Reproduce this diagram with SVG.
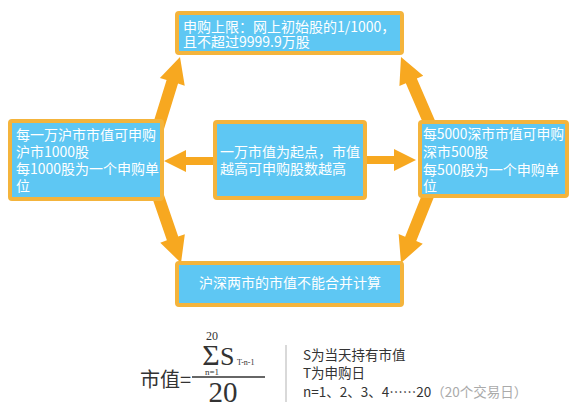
<svg xmlns="http://www.w3.org/2000/svg" width="586" height="410" viewBox="0 0 586 410">
<style>
.box{fill:#5EC7F3;stroke:#F4B43C;stroke-width:4}
.t{fill:#ffffff;font-family:"Noto Sans CJK SC","Noto Sans",sans-serif;font-size:14px}
.arr{fill:#F7A820}
.f{fill:#333333;font-family:"Liberation Serif","Noto Sans CJK SC",serif}
.c{fill:#333333;font-family:"Noto Sans CJK SC","Liberation Serif",sans-serif}
</style>
<rect width="586" height="410" fill="#ffffff"/>
<g id="connectors">
<path class="arr" transform="translate(180,57) rotate(-72.8)" d="M0,0 L-26,-13 L-26,-6 L-76,-6 L-76,6 L-26,6 L-26,13 Z"/>
<path class="arr" transform="translate(401,57) rotate(-113.4)" d="M0,0 L-26,-13 L-26,-6 L-75,-6 L-75,6 L-26,6 L-26,13 Z"/>
<path class="arr" transform="translate(181,263) rotate(71.05)" d="M0,0 L-26,-13 L-26,-6 L-73,-6 L-73,6 L-26,6 L-26,13 Z"/>
<path class="arr" transform="translate(401,263) rotate(111.9)" d="M0,0 L-26,-13 L-26,-6 L-74,-6 L-74,6 L-26,6 L-26,13 Z"/>
<path class="arr" transform="translate(164,161) rotate(180)" d="M0,0 L-22,-11 L-22,-4 L-53,-4 L-53,4 L-22,4 L-22,11 Z"/>
<path class="arr" transform="translate(416,160)" d="M0,0 L-22,-11 L-22,-4 L-53,-4 L-53,4 L-22,4 L-22,11 Z"/>
</g>
<g id="top">
<rect class="box" x="177" y="13" width="225" height="40" rx="2"/>
<text class="t" x="183" y="32" font-size="13">申购上限：网上初始股的1/1000，</text>
<text class="t" x="183" y="47" font-size="13">且不超过9999.9万股</text>
</g>
<g id="left">
<rect class="box" x="10" y="121" width="152" height="78" rx="2"/>
<text class="t" x="16" y="140">每一万沪市市值可申购</text>
<text class="t" x="16" y="157">沪市1000股</text>
<text class="t" x="16" y="174">每1000股为一个申购单</text>
<text class="t" x="16" y="191">位</text>
</g>
<g id="center">
<rect class="box" x="215" y="122" width="150" height="76" rx="2"/>
<text class="t" x="220" y="157">一万市值为起点，市值</text>
<text class="t" x="220" y="174">越高可申购股数越高</text>
</g>
<g id="right">
<rect class="box" x="420" y="122" width="147" height="74" rx="2"/>
<text class="t" x="423" y="139" textLength="141" lengthAdjust="spacingAndGlyphs">每5000深市市值可申购</text>
<text class="t" x="423" y="157" font-size="13">深市500股</text>
<text class="t" x="423" y="175" textLength="136" lengthAdjust="spacingAndGlyphs">每500股为一个申购单</text>
<text class="t" x="423" y="191" font-size="13">位</text>
</g>
<g id="bottom">
<rect class="box" x="177" y="263" width="225" height="42" rx="2"/>
<text class="t" x="290" y="288" text-anchor="middle">沪深两市的市值不能合并计算</text>
</g>
<g id="formula">
<text class="c" x="140" y="387" font-size="20">市值=</text>
<text class="f" x="212" y="340" font-size="12" text-anchor="middle">20</text>
<text class="f" x="211" y="365" font-size="30" text-anchor="middle">Σ</text>
<text class="f" x="212" y="375" font-size="9" text-anchor="middle">n=1</text>
<text class="f" x="220" y="365" font-size="26">S</text>
<text class="f" x="237" y="365" font-size="8">T-n-1</text>
<line x1="192" y1="377" x2="265" y2="377" stroke="#333333" stroke-width="1.5"/>
<text class="f" x="223" y="402" font-size="29" text-anchor="middle">20</text>
<line x1="286" y1="345" x2="286" y2="402" stroke="#cccccc" stroke-width="1.5"/>
<text class="c" x="303" y="360" font-size="13.5">S为当天持有市值</text>
<text class="c" x="303" y="378" font-size="13.5">T为申购日</text>
<text class="c" x="303" y="397" font-size="13.5">n=1、2、3、4……20<tspan fill="#aaaaaa">（20个交易日）</tspan></text>
</g>
</svg>
